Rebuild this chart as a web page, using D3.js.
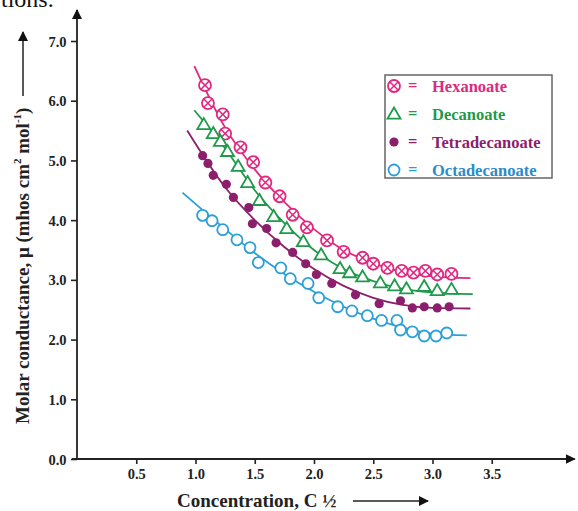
<!DOCTYPE html>
<html>
<head>
<meta charset="utf-8">
<script src="https://cdn.jsdelivr.net/npm/d3@7"></script>
<style>
  body { margin: 0; background: #fff; }
  svg text { font-family: "Liberation Serif", "Times New Roman", serif; }
</style>
</head>
<body>
<div id="chart"></div>
<script>
// Tick labels
const xTicks = [0.5, 1.0, 1.5, 2.0, 2.5, 3.0, 3.5];
const yTicks = [0, 1, 2, 3, 4, 5, 6, 7];

// Measured points (C^1/2, molar conductance)
const hexanoate = [
  [1.08, 6.26], [1.105, 5.96], [1.23, 5.77], [1.25, 5.45], [1.38, 5.22],
  [1.487, 4.97], [1.59, 4.63], [1.71, 4.40], [1.82, 4.09], [1.94, 3.88],
  [2.11, 3.66], [2.25, 3.47], [2.41, 3.37], [2.50, 3.27], [2.62, 3.20],
  [2.74, 3.15], [2.84, 3.12], [2.94, 3.15], [3.04, 3.09], [3.16, 3.10]
];
const decanoate = [
  [1.07, 5.60], [1.15, 5.45], [1.21, 5.32], [1.27, 5.15], [1.36, 4.90],
  [1.44, 4.63], [1.54, 4.33], [1.66, 4.06], [1.77, 3.86], [1.91, 3.64],
  [2.06, 3.42], [2.22, 3.19], [2.30, 3.12], [2.41, 3.05], [2.56, 2.95],
  [2.68, 2.90], [2.78, 2.85], [2.93, 2.89], [3.04, 2.82], [3.16, 2.84]
];
const tetradecanoate = [
  [1.06, 5.08], [1.105, 4.95], [1.15, 4.75], [1.26, 4.60], [1.32, 4.38],
  [1.45, 4.21], [1.48, 3.94], [1.60, 3.86], [1.68, 3.62], [1.82, 3.46],
  [1.93, 3.27], [2.02, 3.09], [2.15, 2.94], [2.35, 2.75], [2.55, 2.60],
  [2.73, 2.65], [2.83, 2.53], [2.93, 2.55], [3.04, 2.53], [3.14, 2.55]
];
const octadecanoate = [
  [1.06, 4.08], [1.14, 3.99], [1.23, 3.84], [1.35, 3.67], [1.46, 3.54],
  [1.53, 3.29], [1.72, 3.20], [1.80, 3.02], [1.95, 2.94], [2.04, 2.70],
  [2.20, 2.55], [2.32, 2.48], [2.45, 2.40], [2.57, 2.32], [2.70, 2.32],
  [2.73, 2.16], [2.83, 2.13], [2.93, 2.06], [3.03, 2.06], [3.12, 2.11]
];

// Fitted curves
const hexanoateFit = [[0.99, 6.58], [1.25, 5.55], [1.5, 4.85], [1.75, 4.3], [2.0, 3.85], [2.25, 3.5], [2.5, 3.28], [2.75, 3.13], [3.0, 3.06], [3.32, 3.03]];
const decanoateFit = [[0.99, 5.84], [1.25, 5.2], [1.5, 4.5], [1.75, 3.95], [2.0, 3.5], [2.25, 3.18], [2.5, 2.98], [2.75, 2.85], [3.0, 2.79], [3.34, 2.76]];
const tetradecanoateFit = [[0.93, 5.50], [1.25, 4.55], [1.5, 4.0], [1.75, 3.55], [2.0, 3.18], [2.25, 2.9], [2.5, 2.7], [2.75, 2.58], [3.0, 2.53], [3.32, 2.52]];
const octadecanoateFit = [[0.89, 4.46], [1.25, 3.85], [1.5, 3.45], [1.75, 3.1], [2.0, 2.8], [2.25, 2.55], [2.5, 2.35], [2.75, 2.2], [3.0, 2.1], [3.29, 2.07]];

const seriesNames = ["Hexanoate", "Decanoate", "Tetradecanoate", "Octadecanoate"];
const colors = ["#e0287f", "#1f9a4c", "#8c1f6c", "#2a9fd8"];
const textColors = ["#dc2a7e", "#1f9a4c", "#8c1f6c", "#2a8cc8"];

const width = 578, height = 511;
const svg = d3.select("#chart").append("svg")
  .attr("width", width)
  .attr("height", height);

const x = d3.scaleLinear().domain([0, 4.2]).range([77, 574.7]);
const y = d3.scaleLinear().domain([0, 7]).range([459, 41]);

// stray caption fragment at the top of the page
svg.append("text")
  .attr("x", 1).attr("y", 7)
  .attr("font-size", 24)
  .attr("fill", "#111")
  .text("tions.");

// arrowhead marker
svg.append("defs").append("marker")
  .attr("id", "arrow")
  .attr("viewBox", "0 0 10 10")
  .attr("refX", 9).attr("refY", 5)
  .attr("markerWidth", 10).attr("markerHeight", 10)
  .attr("markerUnits", "userSpaceOnUse")
  .attr("orient", "auto")
  .append("path")
  .attr("d", "M0,0 L10,5 L0,10 Z")
  .attr("fill", "#111");

// axes
const xAxis = svg.append("g")
  .attr("transform", `translate(0,${y(0)})`)
  .call(d3.axisBottom(x).tickValues(xTicks).tickFormat(d3.format(".1f")).tickSize(5).tickSizeOuter(0));
xAxis.select(".domain").remove();
const yAxis = svg.append("g")
  .attr("transform", `translate(${x(0)},0)`)
  .call(d3.axisLeft(y).tickValues(yTicks).tickFormat(d3.format(".1f")).tickSize(6).tickSizeOuter(0));
yAxis.select(".domain").remove();

[xAxis, yAxis].forEach(g => {
  g.selectAll("line").attr("stroke", "#222").attr("stroke-width", 1.6);
  g.selectAll("text")
    .attr("font-family", "Liberation Serif, serif")
    .attr("font-weight", "bold")
    .attr("font-size", 14.5)
    .attr("fill", "#222");
});
xAxis.selectAll("text").attr("dy", "0.85em");
yAxis.selectAll("text").attr("dx", "-0.1em").attr("dy", "0.35em");

svg.append("line")
  .attr("x1", x(0) - 5).attr("y1", y(0))
  .attr("x2", x(4.2)).attr("y2", y(0))
  .attr("stroke", "#222").attr("stroke-width", 1.8)
  .attr("marker-end", "url(#arrow)");
svg.append("line")
  .attr("x1", x(0)).attr("y1", y(0))
  .attr("x2", x(0)).attr("y2", 10)
  .attr("stroke", "#222").attr("stroke-width", 1.8)
  .attr("marker-end", "url(#arrow)");

// axis titles
const yTitle = svg.append("text")
  .attr("transform", "translate(29,424) rotate(-90)")
  .attr("font-size", 19)
  .attr("font-weight", "bold")
  .attr("fill", "#222");
yTitle.append("tspan").text("Molar conductance, μ (mhos cm");
yTitle.append("tspan").attr("font-size", 11).attr("dy", -8).text("2");
yTitle.append("tspan").attr("dy", 8).text(" mol");
yTitle.append("tspan").attr("font-size", 11).attr("dy", -8).text("-1");
yTitle.append("tspan").attr("dy", 8).text(")");
svg.append("line")
  .attr("x1", 23).attr("y1", 96)
  .attr("x2", 23).attr("y2", 32)
  .attr("stroke", "#222").attr("stroke-width", 1.5)
  .attr("marker-end", "url(#arrow)");

svg.append("text")
  .attr("x", 177).attr("y", 507)
  .attr("font-size", 19)
  .attr("font-weight", "bold")
  .attr("fill", "#222")
  .text("Concentration, C ½");
svg.append("line")
  .attr("x1", 353).attr("y1", 501)
  .attr("x2", 428).attr("y2", 501)
  .attr("stroke", "#222").attr("stroke-width", 1.5)
  .attr("marker-end", "url(#arrow)");

// fitted curves
const line = d3.line()
  .x(d => x(d[0]))
  .y(d => y(d[1]))
  .curve(d3.curveMonotoneX);

const fits = [hexanoateFit, decanoateFit, tetradecanoateFit, octadecanoateFit];
fits.forEach((f, i) => {
  svg.append("path")
    .datum(f)
    .attr("fill", "none")
    .attr("stroke", colors[i])
    .attr("stroke-width", 1.8)
    .attr("d", line);
});

// marker drawers
function crossCircle(g, cx, cy, c) {
  const r = 6, k = r * 0.72;
  g.append("circle").attr("cx", cx).attr("cy", cy).attr("r", r)
    .attr("fill", "#fff").attr("stroke", c).attr("stroke-width", 1.8);
  g.append("line").attr("x1", cx - k).attr("y1", cy - k).attr("x2", cx + k).attr("y2", cy + k)
    .attr("stroke", c).attr("stroke-width", 1.5);
  g.append("line").attr("x1", cx - k).attr("y1", cy + k).attr("x2", cx + k).attr("y2", cy - k)
    .attr("stroke", c).attr("stroke-width", 1.5);
}
function triangle(g, cx, cy, c) {
  const s = 6.5;
  g.append("path")
    .attr("d", `M${cx},${cy - s} L${cx + s},${cy + s * 0.7} L${cx - s},${cy + s * 0.7} Z`)
    .attr("fill", "#fff").attr("stroke", c).attr("stroke-width", 1.8);
}
function dot(g, cx, cy, c) {
  g.append("circle").attr("cx", cx).attr("cy", cy).attr("r", 4.6).attr("fill", c);
}
function ring(g, cx, cy, c) {
  g.append("circle").attr("cx", cx).attr("cy", cy).attr("r", 5.5)
    .attr("fill", "#fff").attr("stroke", c).attr("stroke-width", 1.8);
}
const drawers = [crossCircle, triangle, dot, ring];
const series = [hexanoate, decanoate, tetradecanoate, octadecanoate];

series.forEach((s, i) => {
  const g = svg.append("g");
  s.forEach(d => drawers[i](g, x(d[0]), y(d[1]), colors[i]));
});

// legend
const legend = svg.append("g");
legend.append("rect")
  .attr("x", 385).attr("y", 75)
  .attr("width", 167).attr("height", 103)
  .attr("fill", "#fff")
  .attr("stroke", "#666").attr("stroke-width", 1.5);
seriesNames.forEach((name, i) => {
  const cy = 86 + i * 28;
  drawers[i](legend, 394, cy, colors[i]);
  legend.append("text")
    .attr("x", 408).attr("y", cy + 5)
    .attr("font-size", 16.5).attr("font-weight", "bold")
    .attr("fill", colors[i])
    .text("=");
  legend.append("text")
    .attr("x", 432).attr("y", cy + 5.5)
    .attr("font-size", 16.5).attr("font-weight", "bold")
    .attr("fill", textColors[i])
    .text(name);
});
</script>
</body>
</html>
